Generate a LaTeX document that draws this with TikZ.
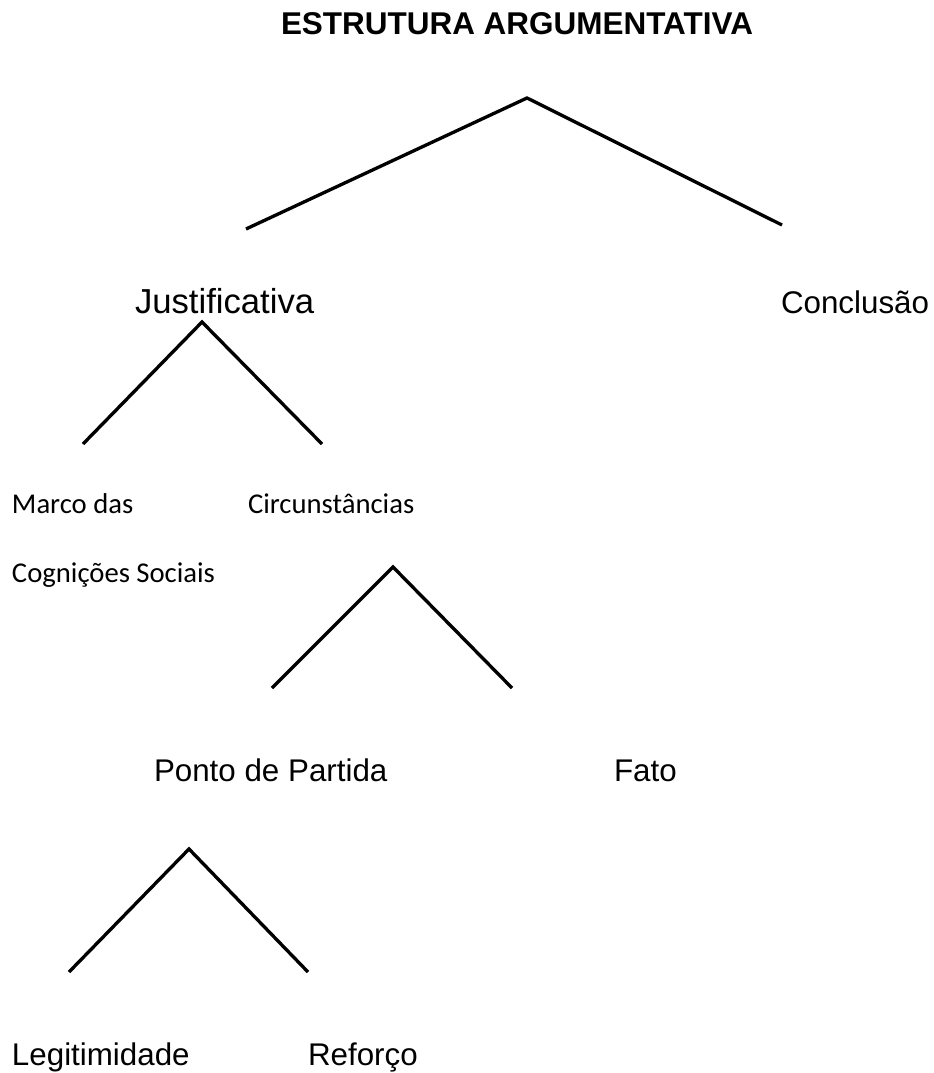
\documentclass[tikz,border=0pt]{standalone}
\usepackage{fontspec}
\setmainfont{Liberation Sans}
\newfontfamily\calib{Carlito}
\usepackage{tikz}
\usetikzlibrary{positioning}
\usetikzlibrary{calc}
\newcommand{\ramo}[3]{\draw[ramo] (#2) -- (#1) -- (#3)}

\begin{document}
\begin{tikzpicture}[
        x=0.75pt, y=-0.75pt,
        every node/.style={inner sep=0pt, outer sep=0pt, anchor=base west},
        titulo/.style={font=\fontsize{23.6}{28}\selectfont\bfseries},
        termo/.style={font=\fontsize{23.5}{28}\selectfont},
        nota/.style={font=\calib\fontsize{21.5}{26}\selectfont},
        ramo/.style={line width=2.5pt, line join=miter}
      ]
      \useasboundingbox (0,0) rectangle (933,1073);
      \node(tit)[titulo] at (281,35) {ESTRUTURA ARGUMENTATIVA};
      % arvore principal
      \coordinate (a0) at (527,98);
      \coordinate (a0l) at (246,229);
      \coordinate (a0r) at (782,225);
      \node(just)[termo, font=\fontsize{26}{31}\selectfont] at (135,313) {Justificativa};
      \node(concl)[termo] at (781,313) {Conclusão};
      % justificativa
      \coordinate (a1) at (202,322);
      \coordinate (a1l) at (83,444);
      \coordinate (a1r) at (322,444);
      \node(marco)[nota] at (12,513) {Marco das};
      \node(cogn)[nota] at (12,582) {Cognições Sociais};
      \node(circ)[nota] at (248,513) {Circunstâncias};
      % circunstancias
      \coordinate (a2) at (393,567);
      \coordinate (a2l) at (272,688);
      \coordinate (a2r) at (512,688);
      \node(ponto)[termo] at (154,781) {Ponto de Partida};
      \node(fato)[termo] at (614,781) {Fato};
      % ponto de partida
      \coordinate (a3) at (189,849);
      \coordinate (a3l) at (69,972);
      \coordinate (a3r) at (308,972);
      \node(legit)[termo] at (12,1065) {Legitimidade};
      \node(refor)[termo] at (308,1065) {Reforço};
      \ramo{a0}{a0l}{a0r};
      \ramo{a1}{a1l}{a1r};
      \ramo{a2}{a2l}{a2r};
      \ramo{a3}{a3l}{a3r};
    \end{tikzpicture}
\end{document}
